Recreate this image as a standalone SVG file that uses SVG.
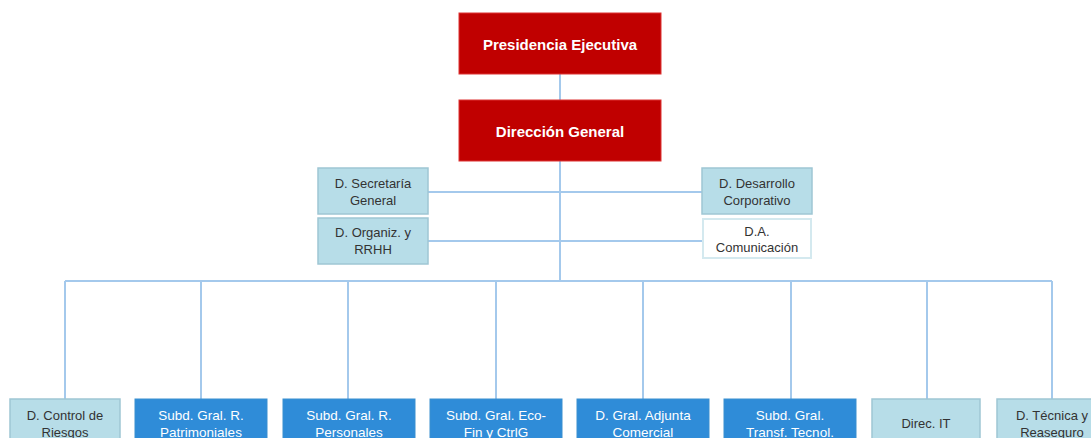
<svg xmlns="http://www.w3.org/2000/svg" width="1091" height="438" viewBox="0 0 1091 438">
<style>
.red{fill:#C00000;stroke:#D33;stroke-width:1}
.pale{fill:#B7DDE8;stroke:#9FC6D4;stroke-width:1.5}
.white{fill:#FFFFFF;stroke:#D4E9EF;stroke-width:2}
.blue{fill:#2F8CD8;stroke:#3A8FD0;stroke-width:1}
.tr{font-family:"Liberation Sans",Arial,sans-serif;font-size:15px;font-weight:bold;fill:#FFFFFF;text-anchor:middle}
.tp{font-family:"Liberation Sans",Arial,sans-serif;font-size:13px;fill:#333333;text-anchor:middle}
.tb{font-family:"Liberation Sans",Arial,sans-serif;font-size:13.5px;fill:#FFFFFF;text-anchor:middle}
.ln{stroke:#A4C9EC;stroke-width:2;fill:none}
</style>
<rect width="1091" height="438" fill="#FFFFFF"/>
<g id="connectors">
<line class="ln" x1="560" y1="74" x2="560" y2="100"/>
<line class="ln" x1="560" y1="161" x2="560" y2="281"/>
<line class="ln" x1="428" y1="192" x2="702" y2="192"/>
<line class="ln" x1="428" y1="241" x2="702" y2="241"/>
<line class="ln" x1="65" y1="281" x2="1052" y2="281"/>
<line class="ln" x1="65" y1="281" x2="65" y2="399"/>
<line class="ln" x1="201" y1="281" x2="201" y2="399"/>
<line class="ln" x1="348" y1="281" x2="348" y2="399"/>
<line class="ln" x1="496" y1="281" x2="496" y2="399"/>
<line class="ln" x1="643" y1="281" x2="643" y2="399"/>
<line class="ln" x1="791" y1="281" x2="791" y2="399"/>
<line class="ln" x1="927" y1="281" x2="927" y2="399"/>
<line class="ln" x1="1052" y1="281" x2="1052" y2="399"/>
</g>
<g id="presidencia"><rect class="red" x="459" y="13" width="202" height="61"/><text class="tr" x="560" y="50">Presidencia Ejecutiva</text></g>
<g id="direccion"><rect class="red" x="459" y="100" width="202" height="61"/><text class="tr" x="560" y="137">Dirección General</text></g>
<g id="secretaria"><rect class="pale" x="318" y="168" width="110" height="46"/><text class="tp" x="373" y="188">D. Secretaría</text><text class="tp" x="373" y="205">General</text></g>
<g id="organiz"><rect class="pale" x="318" y="218" width="110" height="46"/><text class="tp" x="373" y="237">D. Organiz. y</text><text class="tp" x="373" y="254">RRHH</text></g>
<g id="desarrollo"><rect class="pale" x="702" y="168" width="110" height="46"/><text class="tp" x="757" y="188">D. Desarrollo</text><text class="tp" x="757" y="205">Corporativo</text></g>
<g id="comunicacion"><rect class="white" x="703" y="219" width="108" height="39"/><text class="tp" x="757" y="236">D.A.</text><text class="tp" x="757" y="252">Comunicación</text></g>
<g id="control"><rect class="pale" x="10" y="399" width="110" height="46"/><text class="tp" x="65" y="420">D. Control de</text><text class="tp" x="65" y="437">Riesgos</text></g>
<g id="patrimoniales"><rect class="blue" x="135" y="399" width="132" height="46"/><text class="tb" x="201" y="420">Subd. Gral. R.</text><text class="tb" x="201" y="437">Patrimoniales</text></g>
<g id="personales"><rect class="blue" x="283" y="399" width="132" height="46"/><text class="tb" x="349" y="420">Subd. Gral. R.</text><text class="tb" x="349" y="437">Personales</text></g>
<g id="ecofin"><rect class="blue" x="430" y="399" width="132" height="46"/><text class="tb" x="496" y="420">Subd. Gral. Eco-</text><text class="tb" x="496" y="437">Fin y CtrlG</text></g>
<g id="comercial"><rect class="blue" x="577" y="399" width="132" height="46"/><text class="tb" x="643" y="420">D. Gral. Adjunta</text><text class="tb" x="643" y="437">Comercial</text></g>
<g id="transf"><rect class="blue" x="724" y="399" width="132" height="46"/><text class="tb" x="790" y="420">Subd. Gral.</text><text class="tb" x="790" y="437">Transf. Tecnol.</text></g>
<g id="it"><rect class="pale" x="872" y="399" width="108" height="46"/><text class="tp" x="926" y="428">Direc. IT</text></g>
<g id="tecnica"><rect class="pale" x="997" y="399" width="110" height="46"/><text class="tp" x="1052" y="420">D. Técnica y</text><text class="tp" x="1052" y="437">Reaseguro</text></g>
</svg>
